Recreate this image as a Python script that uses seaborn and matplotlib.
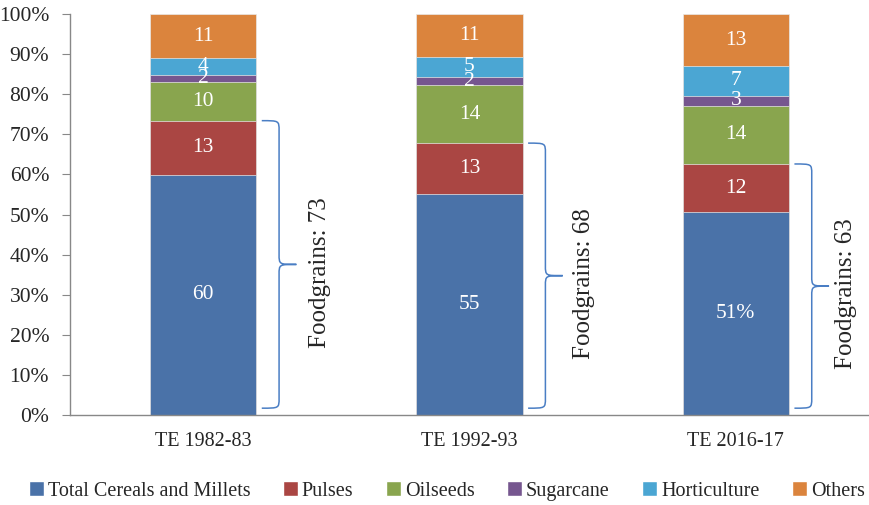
import seaborn as sns
import matplotlib.pyplot as plt
import numpy as np
from matplotlib.patches import Patch, PathPatch
from matplotlib.path import Path

# data (share of gross cropped area, %)
periods = ['TE 1982-83', 'TE 1992-93', 'TE 2016-17']
crops = ['Total Cereals and Millets', 'Pulses', 'Oilseeds', 'Sugarcane', 'Horticulture', 'Others']
cereals = [59.9, 55.1, 50.6]
pulses = [13.5, 12.7, 12.0]
oilseeds = [9.6, 14.4, 14.5]
sugarcane = [1.8, 2.1, 2.5]
horticulture = [4.2, 5.1, 7.4]
others = [11.0, 10.6, 13.0]
labels = [['60', '55', '51%'], ['13', '13', '12'], ['10', '14', '14'],
          ['2', '2', '3'], ['4', '5', '7'], ['11', '11', '13']]
foodgrains = [73, 68, 63]

colors = ['#4A72A8', '#AA4643', '#89A54E', '#76568F', '#4BA6D3', '#DB843D']

sns.set_style('white')
plt.rcParams['font.family'] = ['Liberation Serif', 'DejaVu Serif']

series = np.array([cereals, pulses, oilseeds, sugarcane, horticulture, others])
tops = np.cumsum(series, axis=0)
bottoms = tops - series

fig = plt.figure(figsize=(8.69, 5.05), dpi=100)
ax = fig.add_axes([70 / 869, 90 / 505, 799 / 869, 401 / 505])

# stacked bars: draw cumulative totals from the top layer down
for i in range(len(crops) - 1, -1, -1):
    sns.barplot(x=periods, y=tops[i], color=colors[i], width=0.4, ax=ax,
                edgecolor='#e8e8e8', linewidth=0.5, saturation=1)

for i in range(len(crops)):
    for j in range(len(periods)):
        ax.text(j, bottoms[i, j] + series[i, j] / 2, labels[i][j], color='white',
                ha='center', va='center', fontsize=15.5)

# braces for foodgrains
text_off = [0.44, 0.43, 0.415]
for j in range(len(periods)):
    ytop = tops[1, j]
    ybot = 1.7
    ymid = (ytop + ybot) / 2
    x0, x1, x2 = j + 0.22, j + 0.285, j + 0.35
    r = 2.5
    verts = [(x0, ytop), (x1, ytop), (x1, ytop), (x1, ytop - r),
             (x1, ymid + r),
             (x1, ymid), (x1, ymid), (x2, ymid),
             (x1, ymid), (x1, ymid), (x1, ymid - r),
             (x1, ybot + r),
             (x1, ybot), (x1, ybot), (x0, ybot)]
    codes = [Path.MOVETO, Path.CURVE4, Path.CURVE4, Path.CURVE4,
             Path.LINETO,
             Path.CURVE4, Path.CURVE4, Path.CURVE4,
             Path.CURVE4, Path.CURVE4, Path.CURVE4,
             Path.LINETO,
             Path.CURVE4, Path.CURVE4, Path.CURVE4]
    ax.add_patch(PathPatch(Path(verts, codes), fill=False, edgecolor='#4A7EC4', linewidth=1.1))
    ax.text(j + text_off[j], ymid - 2, f'Foodgrains: {foodgrains[j]}', rotation=90,
            ha='center', va='center', fontsize=18)

ax.set_ylim(0, 100)
ax.set_xlim(-0.5, 2.49)
ax.set_yticks(np.arange(0, 101, 10))
ax.set_yticklabels([f'{v}%' for v in range(0, 101, 10)], fontsize=15.5)
ax.set_xticks(range(len(periods)))
ax.set_xticklabels(periods, fontsize=14.5)
ax.set_xticks([-0.5, 0.5, 1.5, 2.5], minor=True)
ax.tick_params(axis='x', which='major', length=0, pad=12)
ax.tick_params(axis='x', which='minor', length=5, color='#888888', direction='out')
ax.tick_params(axis='y', length=6, color='#888888', direction='out', pad=9, left=True)
ax.set_xlabel('')
ax.set_ylabel('')
for s in ['top', 'right']:
    ax.spines[s].set_visible(False)
for s in ['left', 'bottom']:
    ax.spines[s].set_color('#888888')
    ax.spines[s].set_linewidth(1)

handles = [Patch(facecolor=c, label=l) for c, l in zip(colors, crops)]
fig.legend(handles=handles, loc='center', bbox_to_anchor=(0.514, 1 - 491 / 505), ncol=6,
           frameon=False, fontsize=14.5, handlelength=0.75, handleheight=0.75,
           handletextpad=0.2, columnspacing=1.6)

fig.savefig('out.png', dpi=100)
